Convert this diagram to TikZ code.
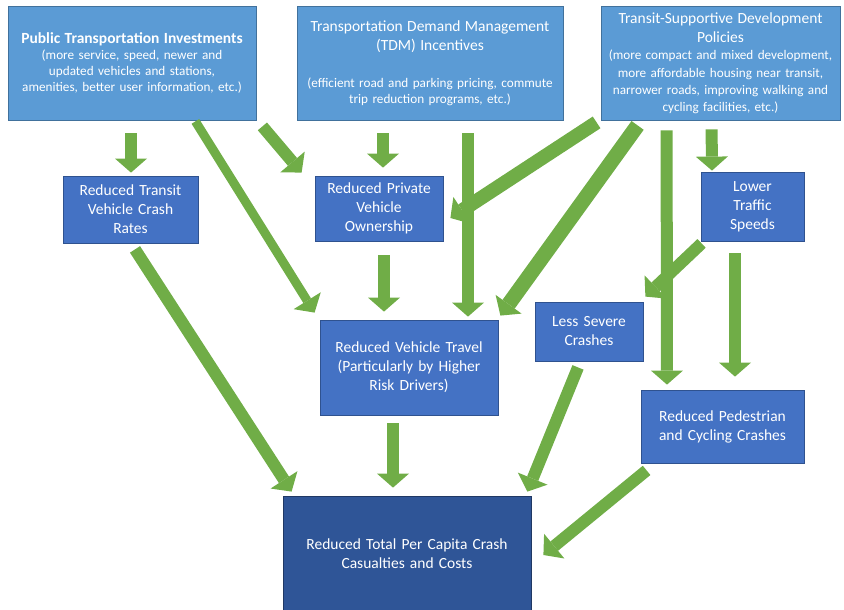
\documentclass[tikz,border=0pt]{standalone}
\usepackage{fontspec}
\setmainfont{Carlito}
\usepackage{tikz}
\usetikzlibrary{arrows.meta}
\usepackage{xcolor}
\definecolor{topblue}{HTML}{5B9BD5}
\definecolor{topline}{HTML}{41719C}
\definecolor{midblue}{HTML}{4472C4}
\definecolor{midline}{HTML}{2F528F}
\definecolor{lowblue}{HTML}{2F5597}
\definecolor{lowline}{HTML}{203864}
\definecolor{flowgreen}{HTML}{70AD47}
\newcommand\headfont{\fontsize{15.5}{19}\selectfont}
\newcommand\notefont{\fontsize{13.2}{16.2}\selectfont}

\begin{document}
\begin{tikzpicture}[x=1pt,y=-1pt,
  box/.style={draw,line width=0.8pt,text=white,align=center,inner sep=2pt,font=\headfont},
  topbox/.style={box,fill=topblue,draw=topline,font=\notefont,inner sep=0pt},
  midbox/.style={box,fill=midblue,draw=midline},
  lowbox/.style={box,fill=lowblue,draw=lowline},
  flow/.style={draw=flowgreen,line width=12pt,-{Triangle[length=14pt,width=32pt,line width=0pt]}}]
\useasboundingbox (0,0) rectangle (844,610);
% policy boxes
\node[topbox,text width=248pt,minimum height=114pt] (pti) at (132,63) {{\headfont\bfseries Public Transportation Investments\par}(more service, speed, newer and\\updated vehicles and stations,\\amenities, better user information, etc.)};
\node[topbox,text width=266pt,minimum height=114pt] (tdm) at (430,63) {{\headfont Transportation Demand Management\\(TDM) Incentives\par}\vskip 21pt(efficient road and parking pricing, commute\\trip reduction programs, etc.)};
\node[topbox,text width=239pt,minimum height=114pt] (tsd) at (720.5,63) {{\headfont Transit-Supportive Development\\Policies\par}\baselineskip=17.5pt(more compact and mixed development,\\more affordable housing near transit,\\narrower roads, improving walking and\\cycling facilities, etc.)};
% effects
\node[midbox,text width=131pt,minimum height=67pt] (rtv) at (130.5,209.5) {Reduced Transit\\Vehicle Crash\\Rates};
\node[midbox,text width=124pt,minimum height=65pt] (rpv) at (379,208.5) {Reduced Private\\Vehicle\\Ownership};
\node[midbox,text width=99pt,minimum height=69pt] (lts) at (752.5,206.5) {Lower\\Traffic\\Speeds};
\node[midbox,text width=174pt,minimum height=95pt] (rvt) at (409,367.5) {Reduced Vehicle Travel\\(Particularly by Higher\\Risk Drivers)};
\node[midbox,text width=104pt,minimum height=59pt] (lsc) at (589,331.5) {Less Severe\\Crashes};
\node[midbox,text width=159pt,minimum height=73pt] (rpc) at (722.5,426.5) {Reduced Pedestrian\\and Cycling Crashes};
\node[lowbox,text width=244pt,minimum height=116pt] (tot) at (407,554) {Reduced Total Per Capita Crash\\Casualties and Costs};
% arrows
\draw[flow] ([xshift=-1pt,yshift=-13pt]pti.south) -- ([xshift=0.5pt,yshift=3pt]rtv.north);
\draw[flow,line width=9pt] ([xshift=-61pt,yshift=-1pt]pti.south east) -- ([xshift=-5pt,yshift=7pt]rvt.north west);
\draw[flow] ([xshift=6pt,yshift=-6pt]pti.south east) -- ([xshift=-13pt,yshift=3pt]rpv.north west);
\draw[flow] ([xshift=-47pt,yshift=-13pt]tdm.south) -- ([xshift=4pt,yshift=8pt]rpv.north);
\draw[flow] ([xshift=5pt,yshift=-14pt]rpv.south) -- ([xshift=-25pt,yshift=8pt]rvt.north);
\draw[flow] ([xshift=38pt,yshift=-13pt]tdm.south) -- ([xshift=59pt,yshift=3pt]rvt.north);
\draw[flow,line width=14pt] ([xshift=-4pt,yshift=-2pt]tsd.south west) -- ([xshift=7pt,yshift=-9.5pt]rpv.east);
\draw[flow,line width=15pt] ([xshift=37pt,yshift=-5pt]tsd.south west) -- ([xshift=2pt,yshift=4pt]rvt.north east);
\draw[flow] ([xshift=66pt,yshift=-10pt]tsd.south west) -- ([xshift=-55.5pt,yshift=5pt]rpc.north);
\draw[flow] ([xshift=111pt,yshift=-9pt]tsd.south west) -- ([xshift=-40.5pt,yshift=1pt]lts.north);
\draw[flow] ([xshift=1pt,yshift=-2pt]lts.south west) -- ([xshift=2pt,yshift=5pt]lsc.north east);
\draw[flow] ([xshift=-17.5pt,yshift=-12pt]lts.south) -- ([xshift=12.5pt,yshift=13pt]rpc.north);
\draw[flow] ([xshift=4.5pt,yshift=-6pt]rtv.south) -- ([xshift=9pt,yshift=4pt]tot.north west);
\draw[flow] ([xshift=-16pt,yshift=-8pt]rvt.south) -- ([xshift=-14pt,yshift=8pt]tot.north);
\draw[flow] ([xshift=-11pt,yshift=-6pt]lsc.south) -- ([xshift=-4pt,yshift=4pt]tot.north east);
\draw[flow] ([xshift=6pt,yshift=-7pt]rpc.south west) -- ([xshift=12pt,yshift=-1pt]tot.east);
\end{tikzpicture}
\end{document}
